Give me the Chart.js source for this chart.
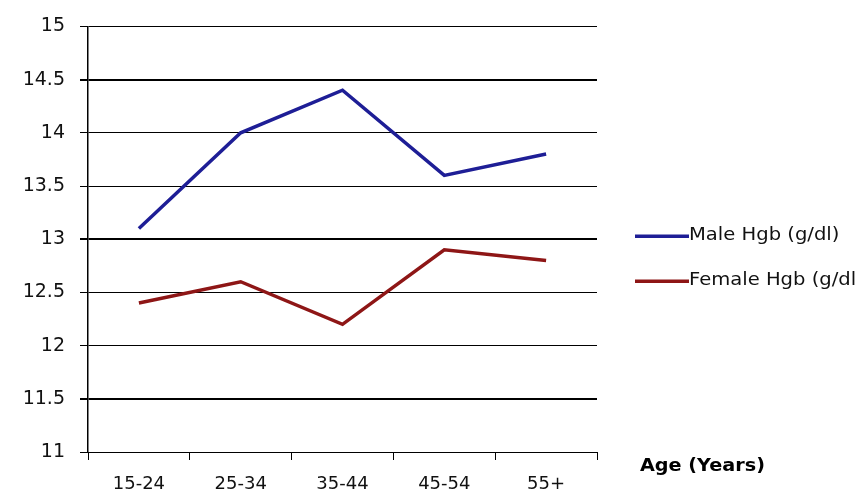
<!DOCTYPE html>
<html>
<head>
<meta charset="utf-8">
<script src="https://cdn.jsdelivr.net/npm/chart.js@4/dist/chart.umd.min.js"></script>
<style>
  html, body { margin: 0; padding: 0; background: #fff; }
  #wrap { width: 859px; height: 494px; }
</style>
</head>
<body>
<div id="wrap"><canvas id="myChart" width="859" height="494"></canvas></div>
<script>
// data
var ageGroups = ["15-24", "25-34", "35-44", "45-54", "55+"];
var maleHgb = [13.1, 14.0, 14.4, 13.6, 13.8];
var femaleHgb = [12.4, 12.6, 12.2, 12.9, 12.8];
var seriesNames = ["Male Hgb (g/dl)", "Female Hgb (g/dl"];
var yMin = 11, yMax = 15, yStep = 0.5;
var xTitle = "Age (Years)";

// legend and axis title drawn at the right, like the spreadsheet original
// (text is a bit stretched sideways in the original, so scale x)
function wideText(ctx, txt, x, y, sx) {
  ctx.save();
  ctx.translate(x, y);
  ctx.scale(sx, 1);
  ctx.fillText(txt, 0, 0);
  ctx.restore();
}

var sideText = {
  id: 'sideText',
  afterDraw: function(chart) {
    var ctx = chart.ctx;
    ctx.save();
    var rows = [236, 281];
    chart.data.datasets.forEach(function(ds, i) {
      ctx.fillStyle = ds.borderColor;
      ctx.fillRect(635, rows[i] - 1.5, 54, 3.5);
      ctx.fillStyle = '#111';
      ctx.font = '17px "DejaVu Sans"';
      ctx.textBaseline = 'middle';
      ctx.textAlign = 'left';
      wideText(ctx, ds.label, 689, rows[i], 1.15);
    });
    ctx.font = 'bold 17px "DejaVu Sans"';
    ctx.fillStyle = '#000';
    ctx.textBaseline = 'middle';
    wideText(ctx, xTitle, 640, 467, 1.13);
    ctx.restore();
  }
};

var ctx = document.getElementById('myChart').getContext('2d');
var myChart = new Chart(ctx, {
  type: 'line',
  data: {
    labels: ageGroups,
    datasets: [{
      label: seriesNames[0],
      data: maleHgb,
      borderColor: "#1e1e96",
      backgroundColor: "#1e1e96",
      borderWidth: 3.5,
      pointRadius: 0,
      tension: 0,
      fill: false
    }, {
      label: seriesNames[1],
      data: femaleHgb,
      borderColor: "#8e1616",
      backgroundColor: "#8e1616",
      borderWidth: 3.5,
      pointRadius: 0,
      tension: 0,
      fill: false
    }]
  },
  options: {
    responsive: false,
    animation: false,
    layout: { padding: { top: 26, right: 262, left: 0, bottom: 0 } },
    plugins: {
      legend: { display: false },
      tooltip: { enabled: false }
    },
    scales: {
      x: {
        offset: true,
        grid: { offset: true, drawOnChartArea: false, drawTicks: true, tickLength: 8, color: '#000', lineWidth: 1 },
        border: { color: '#000', width: 1 },
        ticks: { color: '#111', padding: 14, font: { family: 'DejaVu Sans', size: 18 } },
        afterFit: function(s) { s.height = 42; }
      },
      y: {
        min: yMin,
        max: yMax,
        grid: {
          color: '#000',
          tickLength: 8,
          lineWidth: function(c) {
            var v = c.tick ? c.tick.value : 0;
            return (v === 14.5 || v === 13 || v === 11.5) ? 2 : 1;
          }
        },
        border: { color: '#000', width: 1.5 },
        ticks: {
          stepSize: yStep,
          color: '#111',
          padding: 15,
          font: { family: 'DejaVu Sans', size: 19 },
          callback: function(v) { return String(v); }
        },
        afterFit: function(s) { s.width = 88; }
      }
    }
  },
  plugins: [sideText]
});
</script>
</body>
</html>
